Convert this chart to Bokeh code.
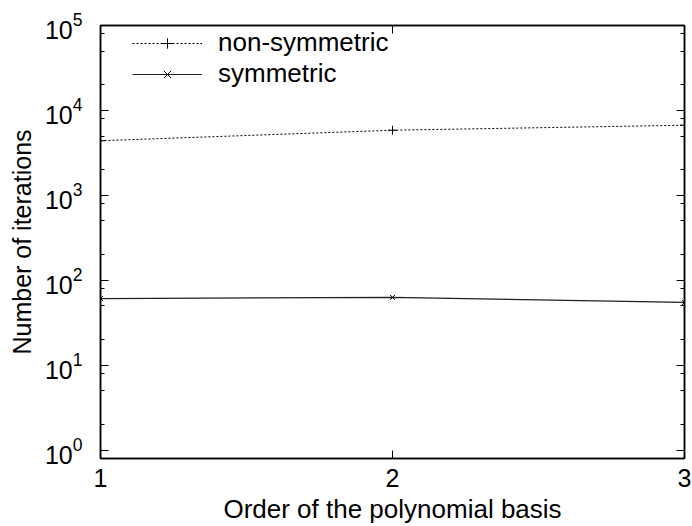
from bokeh.plotting import figure
from bokeh.models import (Range1d, FixedTicker, LogAxis, LinearAxis, Legend,
                          LegendItem, CustomJSTickFormatter)
from bokeh.embed import file_html
from bokeh.resources import INLINE

# ---- data ----
order = [1, 2, 3]
non_symmetric = [4400, 5850, 6700]
symmetric = [61, 63, 55]

x_ticks = [1, 2, 3]
y_major = [1, 10, 100, 1000, 10000, 100000]
y_minor = [2, 5, 8, 20, 50, 80, 200, 500, 800, 2000, 5000, 8000,
           20000, 50000, 80000]

FONT = "Liberation Sans"

p = figure(width=692, height=526, y_axis_type="log",
           x_range=Range1d(1, 3), y_range=Range1d(0.8, 1e5),
           output_backend="svg", toolbar_location=None,
           min_border_left=100, min_border_top=25, min_border_right=8,
           min_border_bottom=66)

p.grid.visible = False
p.background_fill_color = "white"
p.border_fill_color = "white"
p.outline_line_color = "black"
p.outline_line_width = 1.5

yt = FixedTicker(ticks=y_major, minor_ticks=y_minor)
xt = FixedTicker(ticks=x_ticks, minor_ticks=[])

def style(ax):
    ax.axis_line_color = "black"
    ax.axis_line_width = 1.5
    ax.major_tick_in = 8
    ax.major_tick_out = 0
    ax.minor_tick_in = 4
    ax.minor_tick_out = 0
    ax.major_tick_line_color = "black"
    ax.minor_tick_line_color = "black"
    ax.major_label_text_font = FONT
    ax.major_label_text_color = "black"
    ax.axis_label_text_font = FONT
    ax.axis_label_text_font_style = "normal"
    ax.axis_label_text_color = "black"

# left axis
ya = p.yaxis[0]
ya.ticker = yt
style(ya)
ya.major_label_text_font_size = "25px"
ya.major_label_standoff = 18
ya.axis_label = "Number of iterations"
ya.axis_label_text_font_size = "25px"
ya.axis_label_standoff = 6

# bottom axis
xa = p.xaxis[0]
xa.ticker = xt
style(xa)
xa.major_label_text_font_size = "25px"
xa.major_label_text_line_height = 0.9
xa.major_label_standoff = 10
xa.axis_label = "Order of the polynomial basis"
xa.axis_label_text_font_size = "26px"
xa.axis_label_text_line_height = 0.9
xa.axis_label_standoff = 4

# mirrored axes (ticks only, no labels)
ra = LogAxis(ticker=yt, formatter=CustomJSTickFormatter(code="return ''"))
style(ra)
ra.major_label_standoff = 0
p.add_layout(ra, "right")
ta = LinearAxis(ticker=xt, formatter=CustomJSTickFormatter(code="return ''"))
style(ta)
ta.major_label_standoff = 0
p.add_layout(ta, "above")

# ---- series ----
l1 = p.line(order, non_symmetric, line_color="black", line_width=1,
            line_dash="2 2")
m1 = p.scatter(order, non_symmetric, marker="cross", size=9,
               line_color="black", line_width=1)
l2 = p.line(order, symmetric, line_color="#222222", line_width=1.2)
m2 = p.scatter(order, symmetric, marker="x", size=7,
               line_color="black", line_width=1)

legend = Legend(items=[
    LegendItem(label="non-symmetric", renderers=[l1, m1]),
    LegendItem(label="symmetric", renderers=[l2, m2]),
], location=(32, 369))
legend.background_fill_alpha = 0
legend.border_line_alpha = 0
legend.padding = 0
legend.margin = 0
legend.spacing = 0
legend.glyph_width = 70
legend.glyph_height = 26
legend.label_height = 26
legend.label_standoff = 16
legend.label_text_font = FONT
legend.label_text_font_size = "26px"
legend.label_text_color = "black"
p.add_layout(legend, "center")

open("out.html", "w").write(file_html(p, INLINE))
